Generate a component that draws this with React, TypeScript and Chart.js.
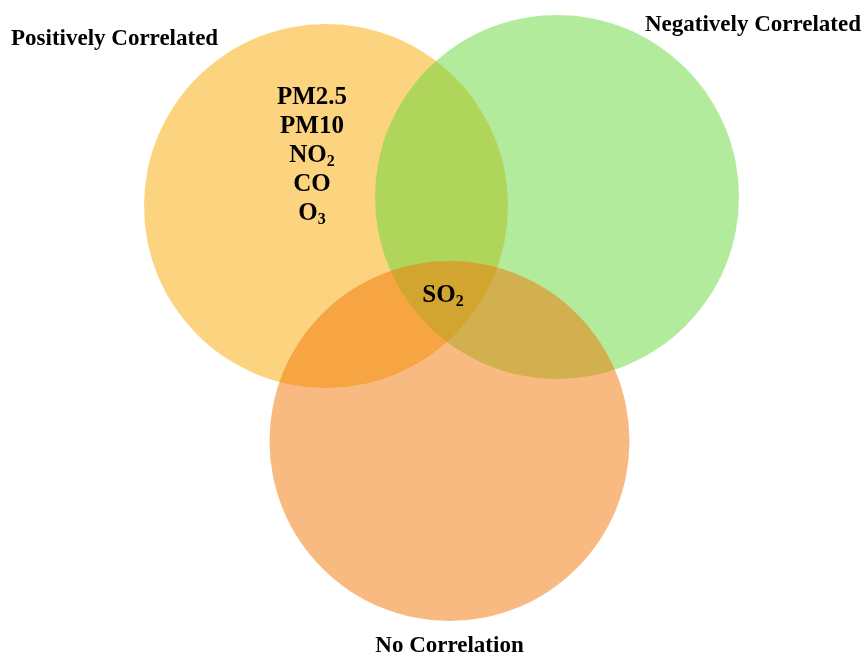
import React, { useEffect, useRef } from "react";
import { Chart, registerables } from "chart.js";

Chart.register(...registerables);

// Venn sets
const setNames = ["Positively Correlated", "Negatively Correlated", "No Correlation"];
const centerX = [326, 557, 449.5];
const centerY = [206, 197, 441];
const radii = [182, 182, 180];
const setColors = ["rgba(249,169,1,0.5)", "rgba(101,215,55,0.5)", "rgba(243,117,5,0.5)"];

// Region members
const positiveOnly = [["PM2.5"], ["PM10"], ["NO", "2"], ["CO"], ["O", "3"]];
const allThree = [["SO", "2"]];

const FONT = "'Liberation Serif', 'Times New Roman', serif";

function drawSubText(ctx: CanvasRenderingContext2D, parts: string[], cx: number, y: number, size: number) {
  const main = `bold ${size}px ${FONT}`;
  const sub = `bold ${Math.round(size * 0.65)}px ${FONT}`;
  ctx.font = main;
  const w1 = ctx.measureText(parts[0]).width;
  let w2 = 0;
  if (parts[1]) {
    ctx.font = sub;
    w2 = ctx.measureText(parts[1]).width;
  }
  const x0 = cx - (w1 + w2) / 2;
  ctx.textAlign = "left";
  ctx.textBaseline = "alphabetic";
  ctx.fillStyle = "#000";
  ctx.font = main;
  ctx.fillText(parts[0], x0, y);
  if (parts[1]) {
    ctx.font = sub;
    ctx.fillText(parts[1], x0 + w1, y + 4);
  }
}

const labelPlugin = {
  id: "vennLabels",
  afterDraw(chart: any) {
    const ctx: CanvasRenderingContext2D = chart.ctx;
    const xs = chart.scales.x;
    const ys = chart.scales.y;
    ctx.save();
    const size = 23;
    ctx.fillStyle = "#000";
    ctx.font = `bold ${size}px ${FONT}`;
    ctx.textBaseline = "alphabetic";
    ctx.textAlign = "left";
    ctx.fillText(setNames[0], xs.getPixelForValue(11), ys.getPixelForValue(45));
    ctx.textAlign = "right";
    ctx.fillText(setNames[1], xs.getPixelForValue(861), ys.getPixelForValue(31));
    ctx.textAlign = "center";
    ctx.fillText(setNames[2], xs.getPixelForValue(449.5), ys.getPixelForValue(652));
    positiveOnly.forEach((p, i) => {
      drawSubText(ctx, p, xs.getPixelForValue(312), ys.getPixelForValue(104 + i * 29), 25);
    });
    allThree.forEach((p) => {
      drawSubText(ctx, p, xs.getPixelForValue(443), ys.getPixelForValue(302), 25);
    });
    ctx.restore();
  },
};

export default function App() {
  const ref = useRef<HTMLCanvasElement>(null);
  useEffect(() => {
    if (!ref.current) return;
    const chart = new Chart(ref.current, {
      type: "bubble",
      data: {
        datasets: setNames.map((name, i) => ({
          label: name,
          data: [{ x: centerX[i], y: centerY[i], r: radii[i] }],
          backgroundColor: setColors[i],
          borderWidth: 0,
          hoverRadius: 0,
          order: setNames.length - i,
          clip: false as any,
        })),
      },
      options: {
        responsive: false,
        animation: false,
        events: [],
        layout: { padding: 0, autoPadding: false },
        plugins: { legend: { display: false }, tooltip: { enabled: false } },
        scales: {
          x: { type: "linear", min: 0, max: 864, display: false },
          y: { type: "linear", min: 0, max: 654, reverse: true, display: false },
        },
      },
      plugins: [labelPlugin],
    });
    return () => chart.destroy();
  }, []);
  return (
    <div style={{ position: "absolute", left: 0, top: 0, width: 864, height: 654, background: "#fff" }}>
      <canvas ref={ref} width={864} height={654} />
    </div>
  );
}
